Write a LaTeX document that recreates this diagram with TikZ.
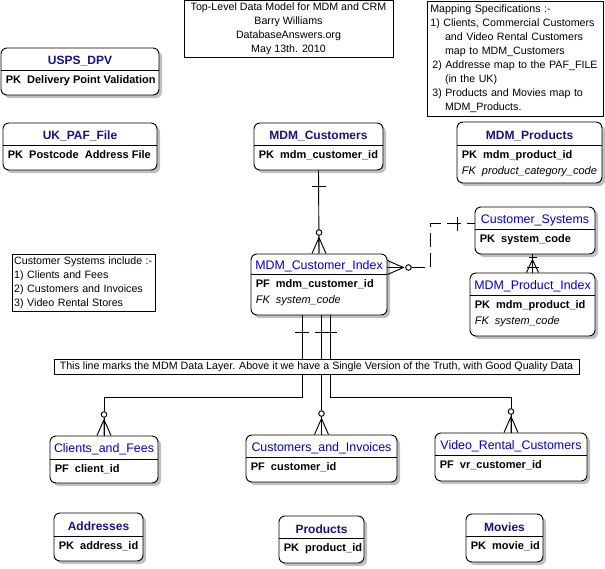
\documentclass[tikz,border=0pt]{standalone}
\usepackage{fontspec}
\setmainfont{Liberation Sans}
\usetikzlibrary{calc,shadows}

\definecolor{entnavy}{RGB}{20,20,130}
\definecolor{entblue}{RGB}{0,0,200}

% entity: name, x1, y1, x2, y2, divider, title style, title, body
\newcommand{\entity}[9]{%
	\node[entbox, minimum width={(#4-#2)*0.75pt}, minimum height={(#5-#3)*0.75pt}] (#1) at ({(#2+#4)/2},{(#3+#5)/2}) {};
	\draw (#2,#6) -- (#4,#6);
	\node[#7] (#1-t) at ({(#2+#4)/2},{(#3+#6)/2+2}) {#8};
	\node[entbody] (#1-b) at (#2+3,#6+4) {#9};
}

\begin{document}
\begin{tikzpicture}[x=0.75pt, y=-0.75pt, line width=0.7pt,
		entbox/.style={draw, fill=white, rounded corners=4.5pt, inner sep=0pt,
			drop shadow={shadow xshift=2.25pt, shadow yshift=-2.25pt, fill=black!25, opacity=1}},
		enttitle/.style={text=entnavy, font=\fontsize{9}{11}\selectfont\bfseries, inner sep=0pt},
		deptitle/.style={text=entblue, font=\fontsize{9.3}{11}\selectfont, inner sep=0pt},
		entbody/.style={anchor=north west, align=left, inner sep=1pt, font=\fontsize{8.25}{11.6}\selectfont},
		note/.style={draw, fill=white, inner sep=0pt, font=\fontsize{8}{10.5}\selectfont},
		relnon/.style={dash pattern=on 10.5pt off 4.5pt},
		zeromany/.pic={\draw (-7,0) -- (0,-16) -- (7,0) (0,0) -- (0,-16);
			\draw[fill=white] (0,-21) circle (2.8);},
		onemany/.pic={\draw (-6,0) -- (0,-13) -- (6,0) (0,0) -- (0,-13);
			\draw (-6,-5) -- (6,-5);},
		onebar/.pic={\draw (-7,0) -- (7,0);}]
	\useasboundingbox (0,0) rectangle (605,568);

	% notes
	\node[note, minimum width=156.75pt, minimum height=42.4pt, align=center] (header) at (288.5,28.75)
		{Top-Level Data Model for MDM and CRM\\Barry Williams\\DatabaseAnswers.org\\May 13th. 2010};
	\node[note, minimum width=132pt, minimum height=86.25pt, text width=127pt, inner xsep=2.5pt, align=left] (mapnote) at (515,58.5)
		{Mapping Specifications :-\\
		1) Clients, Commercial Customers\\
		\hspace*{11pt}and Video Rental Customers\\
		\hspace*{11pt}map to MDM\_Customers\\
		\hspace*{1.5pt}2) Addresse map to the PAF\_FILE\\
		\hspace*{11pt}(in the UK)\\
		\hspace*{1.5pt}3) Products and Movies map to\\
		\hspace*{11pt}MDM\_Products.};
	\node[note, minimum width=107.25pt, minimum height=42.75pt, text width=104pt, inner xsep=1.6pt, align=left] (csnote) at (83.5,282.5)
		{Customer Systems include :-\\1) Clients and Fees\\2) Customers and Invoices\\3) Video Rental Stores};

	% entities
	\entity{usps}{1}{48}{159}{95}{70}{enttitle}{USPS\_DPV}{\textbf{PK\ \ Delivery Point Validation}}
	\entity{ukpaf}{3}{123}{157}{170}{145}{enttitle}{UK\_PAF\_File}{\textbf{PK\ \ Postcode\ \ Address File}}
	\entity{mcus}{254}{123}{383}{170}{145}{enttitle}{MDM\_Customers}{\textbf{PK\ \ mdm\_customer\_id}}
	\entity{mprod}{457}{122}{602}{183}{145}{enttitle}{MDM\_Products}{\textbf{PK\ \ mdm\_product\_id}\\\textit{FK\ \ product\_category\_code}}
	\entity{csys}{475}{207}{595}{254}{229}{deptitle}{Customer\_Systems}{\textbf{PK\ \ system\_code}}
	\entity{mcidx}{251}{254}{387}{315}{274}{deptitle}{MDM\_Customer\_Index}{\textbf{PF\ \ mdm\_customer\_id}\\\textit{FK\ \ system\_code}}
	\entity{mpidx}{470}{273}{595}{336}{295}{deptitle}{MDM\_Product\_Index}{\textbf{PK\ \ mdm\_product\_id}\\\textit{FK\ \ system\_code}}
	\entity{clf}{50}{436}{158}{483}{459}{deptitle}{Clients\_and\_Fees}{\textbf{PF\ \ client\_id}}
	\entity{cinv}{246}{435}{397}{482}{457}{deptitle}{Customers\_and\_Invoices}{\textbf{PF\ \ customer\_id}}
	\entity{vrc}{435}{433}{587}{481}{455}{deptitle}{Video\_Rental\_Customers}{\textbf{PF\ \ vr\_customer\_id}}
	\entity{addr}{54}{513}{143}{561}{536}{enttitle}{Addresses}{\textbf{PK\ \ address\_id}}
	\entity{prod}{279}{516}{364}{563}{538}{enttitle}{Products}{\textbf{PK\ \ product\_id}}
	\entity{movie}{466}{514}{543}{562}{536}{enttitle}{Movies}{\textbf{PK\ \ movie\_id}}

	% MDM_Customers -> MDM_Customer_Index
	\draw (mcus.south) -- (mcidx.north);
	\pic at ($(mcus.south)+(0,16)$) {onebar};
	\pic at (mcidx.north) {zeromany};

	% Customer_Systems -> MDM_Customer_Index
	\coordinate (ci-r) at ($(mcidx.east)+(0,-17)$);
	\coordinate (cs-l) at ($(csys.west)+(0,-7)$);
	\draw[relnon] ($(ci-r)+(24,0)$) -- ($(ci-r)+(43,0)$) |- (cs-l);
	\pic[rotate=-90] at (ci-r) {zeromany};
	\pic[rotate=-90] at ($(cs-l)+(-17,0)$) {onebar};

	% Customer_Systems -> MDM_Product_Index
	\draw (mpidx.north |- csys.south) -- (mpidx.north);
	\draw ($(mpidx.north |- csys.south)+(-4,3)$) -- ++(8,0);
	\pic at (mpidx.north) {onemany};

	% MDM_Customer_Index -> customer systems
	\draw ($(mcidx.south)+(-17,0)$) -- ++(0,82) -| (clf.north);
	\draw (cinv.north |- mcidx.south) -- (cinv.north);
	\draw ($(mcidx.south)+(11,0)$) -- ++(0,82) -| (vrc.north);
	\pic at ($(mcidx.south)+(-17,17)$) {onebar};
	\pic at ($(cinv.north |- mcidx.south)+(0,17)$) {onebar};
	\pic at ($(mcidx.south)+(11,17)$) {onebar};
	\pic at (clf.north) {zeromany};
	\pic at (cinv.north) {zeromany};
	\pic at (vrc.north) {zeromany};

	% MDM layer
	\node[note, minimum width=393.75pt, minimum height=11.25pt] (layer) at (316.5,366.5)
		{This line marks the MDM Data Layer. Above it we have a Single Version of the Truth, with Good Quality Data};
\end{tikzpicture}
\end{document}
